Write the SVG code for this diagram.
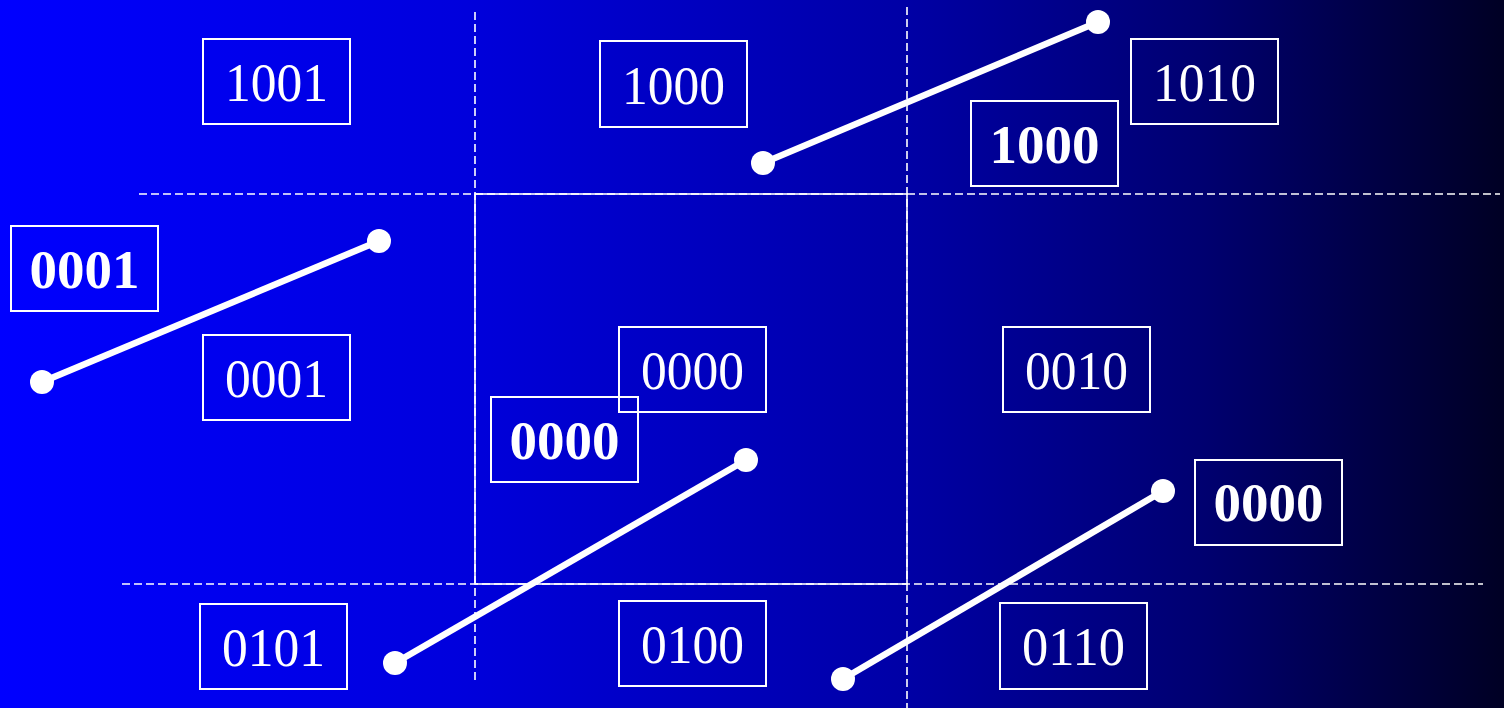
<svg xmlns="http://www.w3.org/2000/svg" width="1504" height="708" viewBox="0 0 1504 708">
<defs>
<linearGradient id="bg" x1="0" y1="0" x2="1504" y2="0" gradientUnits="userSpaceOnUse">
<stop offset="0" stop-color="#0000FF"/>
<stop offset="0.08" stop-color="#0000F6"/>
<stop offset="0.31" stop-color="#0000DC"/>
<stop offset="0.6" stop-color="#0000A6"/>
<stop offset="0.8" stop-color="#000070"/>
<stop offset="1" stop-color="#000024"/>
</linearGradient>
<style>
.dash{stroke:#fff;stroke-width:1.6;stroke-dasharray:8 4;fill:none}
.win{stroke:#fff;stroke-width:1.6;fill:none}
.box rect{stroke:#fff;stroke-width:2;fill:none}
.box text{fill:#fff;font-family:"Liberation Serif","Times New Roman",serif;font-size:55px;text-anchor:middle}
.box.b text{font-weight:bold}
.seg line{stroke:#fff;stroke-width:6.5}
.seg circle{fill:#fff}
</style>
</defs>
<rect x="0" y="0" width="1504" height="708" fill="url(#bg)"/>
<g id="grid">
<line class="dash" x1="475" y1="12" x2="475" y2="680"/>
<line class="dash" x1="907" y1="7" x2="907" y2="708"/>
<line class="dash" x1="139" y1="194" x2="1500" y2="194"/>
<line class="dash" x1="122" y1="584" x2="1483" y2="584"/>
<rect class="win" x="475" y="194" width="432" height="390"/>
</g>
<g id="n1001" class="box"><rect x="203" y="39" width="147" height="85"/><text x="276.5" y="101" textLength="103" lengthAdjust="spacingAndGlyphs">1001</text></g>
<g id="n1000" class="box"><rect x="600" y="41" width="147" height="86"/><text x="673.5" y="104" textLength="103" lengthAdjust="spacingAndGlyphs">1000</text></g>
<g id="n1010" class="box"><rect x="1131" y="39" width="147" height="85"/><text x="1204.5" y="101" textLength="103" lengthAdjust="spacingAndGlyphs">1010</text></g>
<g id="b1000" class="box b"><rect x="971" y="101" width="147" height="85"/><text x="1044.5" y="163">1000</text></g>
<g id="b0001" class="box b"><rect x="11" y="226" width="147" height="85"/><text x="84.5" y="288">0001</text></g>
<g id="n0001" class="box"><rect x="203" y="335" width="147" height="85"/><text x="276.5" y="397" textLength="103" lengthAdjust="spacingAndGlyphs">0001</text></g>
<g id="n0000" class="box"><rect x="619" y="327" width="147" height="85"/><text x="692.5" y="389" textLength="103" lengthAdjust="spacingAndGlyphs">0000</text></g>
<g id="b0000a" class="box b"><rect x="491" y="397" width="147" height="85"/><text x="564.5" y="459">0000</text></g>
<g id="n0010" class="box"><rect x="1003" y="327" width="147" height="85"/><text x="1076.5" y="389" textLength="103" lengthAdjust="spacingAndGlyphs">0010</text></g>
<g id="b0000b" class="box b"><rect x="1195" y="460" width="147" height="85"/><text x="1268.5" y="521">0000</text></g>
<g id="n0101" class="box"><rect x="200" y="604" width="147" height="85"/><text x="273.5" y="666" textLength="103" lengthAdjust="spacingAndGlyphs">0101</text></g>
<g id="n0100" class="box"><rect x="619" y="601" width="147" height="85"/><text x="692.5" y="663" textLength="103" lengthAdjust="spacingAndGlyphs">0100</text></g>
<g id="n0110" class="box"><rect x="1000" y="603" width="147" height="86"/><text x="1073.5" y="665" textLength="103" lengthAdjust="spacingAndGlyphs">0110</text></g>
<g id="connectors" class="seg">
<line x1="763" y1="163" x2="1098" y2="22"/><circle cx="763" cy="163" r="12"/><circle cx="1098" cy="22" r="12"/>
<line x1="42" y1="382" x2="379" y2="241"/><circle cx="42" cy="382" r="12"/><circle cx="379" cy="241" r="12"/>
<line x1="395" y1="663" x2="746" y2="460"/><circle cx="395" cy="663" r="12"/><circle cx="746" cy="460" r="12"/>
<line x1="843" y1="679" x2="1163" y2="491"/><circle cx="843" cy="679" r="12"/><circle cx="1163" cy="491" r="12"/>
</g>
</svg>
